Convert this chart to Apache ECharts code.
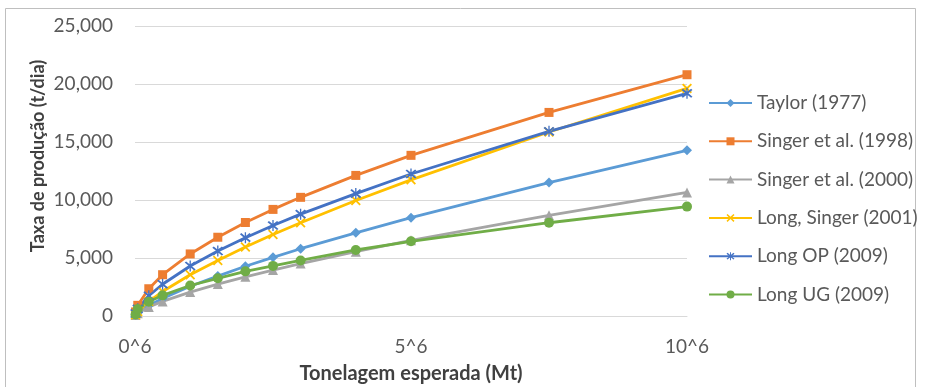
<!DOCTYPE html>
<html>
<head>
<meta charset="utf-8">
<script src="https://cdn.jsdelivr.net/npm/echarts@6/dist/echarts.min.js"></script>
<style>html,body{margin:0;padding:0;background:#fff;}#c{width:926px;height:387px;}</style>
</head>
<body>
<div id="c"></div>
<script>
const tonnage = [0.01, 0.05, 0.25, 0.5, 1, 1.5, 2, 2.5, 3, 4, 5, 7.5, 10];
const taylor1977 = [80, 270, 900, 1510, 2560, 3440, 4290, 5060, 5800, 7170, 8480, 11500, 14280];
const singer1998 = [350, 920, 2350, 3560, 5350, 6790, 8060, 9190, 10230, 12120, 13850, 17550, 20800];
const singer2000 = [80, 245, 770, 1260, 2060, 2750, 3380, 3960, 4520, 5540, 6520, 8680, 10650];
const longSinger2001 = [115, 380, 1260, 2110, 3560, 4790, 5950, 7020, 8040, 9960, 11740, 15860, 19620];
const longOP2009 = [215, 615, 1745, 2740, 4310, 5600, 6750, 7800, 8780, 10550, 12240, 15920, 19200];
const longUG2009 = [130, 600, 1230, 1780, 2630, 3250, 3850, 4320, 4790, 5690, 6440, 8040, 9430];
const seriesNames = ['Taylor (1977)', 'Singer et al. (1998)', 'Singer et al. (2000)', 'Long, Singer (2001)', 'Long OP (2009)', 'Long UG (2009)'];
const xTickSuffix = '^6';

const xPath = 'path://M0,1.3L1.3,0L5,3.7L8.7,0L10,1.3L6.3,5L10,8.7L8.7,10L5,6.3L1.3,10L0,8.7L3.7,5Z';
const starPath = 'path://M0,1.3L1.3,0L5,3.7L8.7,0L10,1.3L6.3,5L10,8.7L8.7,10L5,6.3L1.3,10L0,8.7L3.7,5Z M4.4,-1L5.6,-1L5.6,11L4.4,11Z';

const allData = [taylor1977, singer1998, singer2000, longSinger2001, longOP2009, longUG2009];
const colors = ['#5B9BD5', '#ED7D31', '#A5A5A5', '#FFC000', '#4472C4', '#70AD47'];
const symbols = ['diamond', 'rect', 'triangle', xPath, starPath, 'circle'];
const sizes = [10, 9, 10, 10, 11, 10];

const chart = echarts.init(document.getElementById('c'), null, {renderer: 'canvas'});
const txt = '#595959';
const font = 'Lato, "Noto Sans", sans-serif';

const series = allData.map((d, i) => ({
  name: seriesNames[i],
  type: 'line',
  data: d.map((v, j) => [tonnage[j], v]),
  symbol: symbols[i],
  symbolSize: sizes[i],
  showAllSymbol: true,
  lineStyle: {color: colors[i], width: 2.8},
  itemStyle: {color: colors[i], borderWidth: 0},
  emphasis: {disabled: true},
  animation: false
}));

chart.setOption({
  animation: false,
  backgroundColor: '#fff',
  grid: {left: 135, right: 239, top: 26, bottom: 71, containLabel: false, outerBoundsMode: 'none'},
  xAxis: {
    type: 'value', min: 0, max: 10, interval: 5,
    axisLine: {show: true, lineStyle: {color: '#d9d9d9', width: 1}},
    axisTick: {show: false},
    splitLine: {show: false},
    axisLabel: {color: txt, fontSize: 19, fontFamily: font, margin: 21, formatter: v => v + xTickSuffix},
    name: 'Tonelagem esperada (Mt)', nameLocation: 'middle', nameGap: 48,
    nameTextStyle: {color: '#404040', fontSize: 20, fontWeight: 'bold', fontFamily: font}
  },
  yAxis: {
    type: 'value', min: 0, max: 25000, interval: 5000,
    axisLine: {show: false}, axisTick: {show: false},
    splitLine: {lineStyle: {color: '#d9d9d9', width: 1}},
    axisLabel: {color: txt, fontSize: 19, fontFamily: font, margin: 22, formatter: v => v.toLocaleString('en-US')}
  },
  legend: {
    orient: 'vertical', left: 703, top: 88,
    itemWidth: 43, itemHeight: 10, itemGap: 18.3,
    textStyle: {color: txt, fontSize: 19, fontFamily: font, lineHeight: 20},
    data: seriesNames
  },
  graphic: [
    {type: 'rect', shape: {x: 5.5, y: 8.5, width: 910, height: 400}, style: {fill: null, stroke: '#bfbfbf', lineWidth: 1}, silent: true},
    {type: 'text', x: 38, y: 156, rotation: Math.PI / 2,
     style: {text: 'Taxa de produção (t/dia)', fill: '#404040', font: 'bold 18px ' + font, align: 'center', verticalAlign: 'middle'}}
  ],
  series: series
});
</script>
</body>
</html>
